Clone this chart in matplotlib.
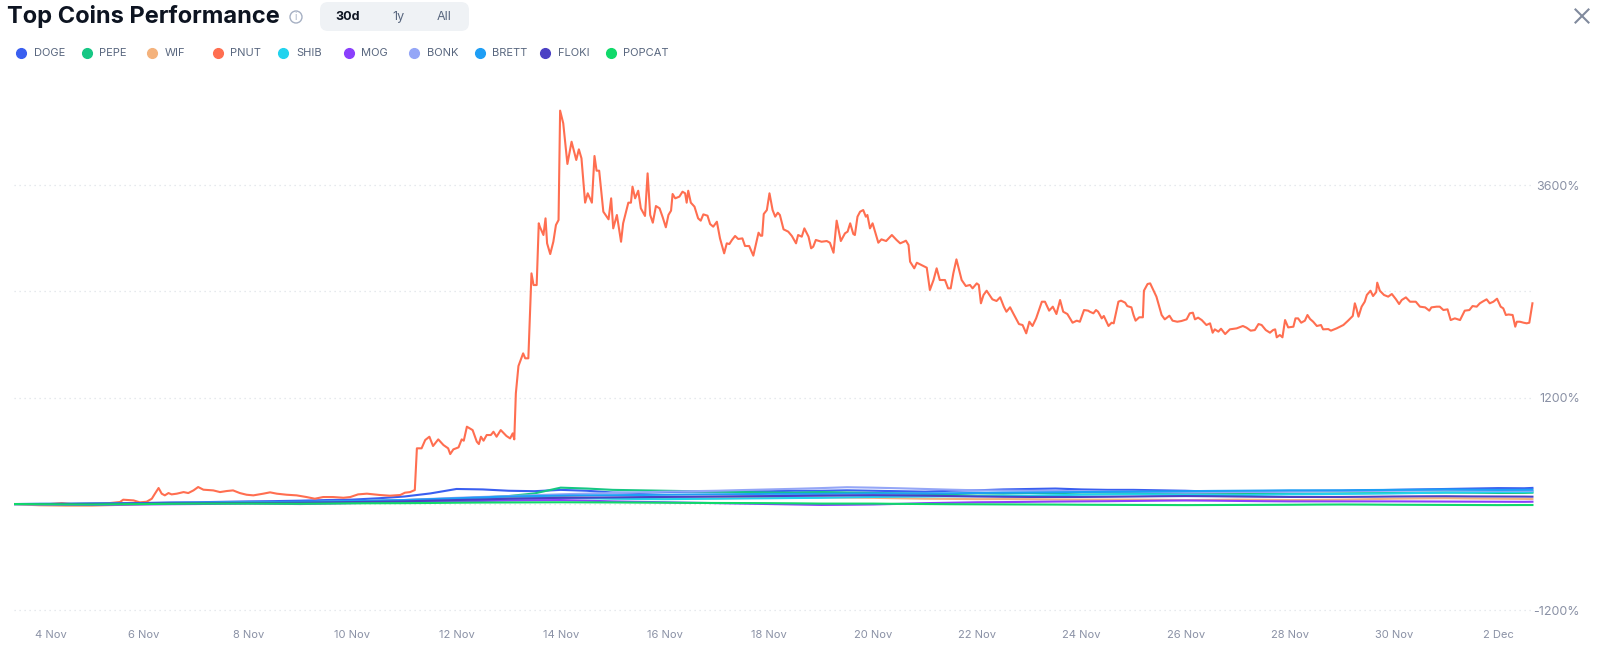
import matplotlib
matplotlib.use("Agg")
import matplotlib.pyplot as plt
from matplotlib.transforms import IdentityTransform, ScaledTranslation
from matplotlib.patches import FancyBboxPatch, Circle
from matplotlib.lines import Line2D

plt.rcParams['font.family'] = ['Inter', 'DejaVu Sans']

# ---------------- data ----------------
coins = ["DOGE", "PEPE", "WIF", "PNUT", "SHIB", "MOG", "BONK", "BRETT", "FLOKI", "POPCAT"]
colors = ["#3a5ff0", "#16c784", "#f4b27c", "#ff6e50", "#22d3ee", "#8a3ffc",
          "#94a6f7", "#1e9ef5", "#4b40c4", "#10d96a"]

# day of November (32 = 2 Dec)
other_days = [3.52, 4.0, 4.5, 5.0, 5.5, 6.0, 6.5, 7.0, 7.5, 8.0,
              8.5, 9.0, 9.5, 10.0, 10.5, 11.0, 11.5, 12.0, 12.5, 13.0,
              13.5, 14.0, 14.5, 15.0, 15.5, 16.0, 16.5, 17.0, 17.5, 18.0,
              18.5, 19.0, 19.5, 20.0, 20.5, 21.0, 21.5, 22.0, 22.5, 23.0,
              23.5, 24.0, 24.5, 25.0, 25.5, 26.0, 26.5, 27.0, 27.5, 28.0,
              28.5, 29.0, 29.5, 30.0, 30.5, 31.0, 31.5, 32.0, 32.5, 32.66]
doge = [0, 2, 0, 5, 8, 12, 18, 20, 25, 30,
        33, 38, 45, 50, 65, 85, 120, 170, 165, 150,
        145, 160, 150, 130, 125, 135, 140, 140, 145, 145,
        150, 150, 155, 150, 145, 140, 150, 155, 165, 170,
        175, 165, 160, 160, 155, 150, 140, 140, 140, 145,
        148, 150, 155, 160, 165, 170, 175, 180, 178, 182]
pepe = [0, 0, -2, -3, -2, 5, 8, 10, 12, 15,
        18, 20, 22, 25, 30, 35, 45, 60, 75, 90,
        120, 185, 175, 160, 155, 150, 145, 140, 135, 130,
        128, 135, 130, 125, 120, 115, 112, 120, 118, 125,
        122, 130, 128, 125, 122, 120, 118, 115, 113, 115,
        118, 120, 122, 125, 128, 130, 128, 125, 126, 128]
wif = [0, -15, -20, -20, -10, 0, 5, 10, 12, 15,
       18, 20, 25, 30, 38, 45, 55, 60, 70, 75,
       78, 80, 72, 65, 62, 60, 63, 65, 68, 70,
       72, 75, 73, 70, 65, 60, 58, 55, 56, 55,
       52, 50, 50, 50, 48, 45, 47, 50, 48, 45,
       47, 50, 55, 60, 63, 65, 62, 60, 58, 56]
shib = [0, 0, -1, -2, 2, 5, 8, 10, 11, 12,
        13, 15, 20, 25, 32, 40, 48, 55, 58, 60,
        65, 70, 65, 60, 57, 55, 58, 60, 63, 65,
        68, 70, 75, 80, 83, 85, 88, 90, 93, 95,
        100, 105, 108, 110, 108, 105, 102, 100, 105, 110,
        112, 115, 118, 120, 125, 130, 132, 135, 137, 139]
mog = [0, -5, -8, -10, -8, -5, -2, 0, 3, 5,
       3, 0, 5, 10, 15, 20, 25, 30, 35, 40,
       43, 45, 38, 30, 25, 20, 15, 10, 5, 0,
       -5, -10, -8, -5, 2, 10, 15, 20, 22, 25,
       28, 30, 32, 35, 38, 40, 38, 35, 32, 30,
       30, 30, 30, 30, 29, 28, 27, 26, 25, 26]
bonk = [0, 0, 1, 2, 5, 8, 10, 12, 14, 15,
        18, 20, 25, 30, 38, 45, 58, 70, 80, 90,
        100, 110, 118, 125, 132, 140, 145, 150, 158, 165,
        172, 180, 190, 185, 178, 170, 162, 155, 152, 150,
        148, 145, 142, 140, 135, 130, 132, 135, 138, 140,
        142, 145, 148, 150, 152, 155, 152, 150, 150, 150]
brett = [0, 2, 3, 5, 8, 10, 12, 15, 18, 20,
         22, 25, 30, 35, 40, 45, 55, 65, 75, 85,
         90, 95, 98, 100, 102, 105, 108, 110, 112, 115,
         115, 115, 118, 120, 120, 120, 122, 125, 128, 130,
         132, 135, 138, 140, 142, 145, 148, 150, 152, 155,
         155, 155, 158, 160, 162, 165, 162, 160, 161, 162]
floki = [0, 0, 2, 3, 5, 8, 9, 10, 11, 12,
         13, 15, 18, 22, 26, 30, 38, 45, 52, 60,
         65, 70, 72, 75, 78, 80, 82, 85, 88, 90,
         92, 95, 98, 100, 98, 95, 90, 85, 82, 80,
         80, 80, 82, 85, 88, 90, 88, 85, 82, 80,
         80, 80, 82, 85, 87, 88, 86, 85, 84, 83]
popcat = [0, -2, -4, -5, -2, 0, 3, 5, 5, 5,
          4, 3, 5, 8, 9, 10, 12, 15, 17, 18,
          19, 20, 19, 18, 16, 15, 13, 12, 11, 10,
          8, 5, 5, 5, 2, 0, -2, -3, -4, -5,
          -6, -8, -9, -10, -11, -12, -11, -10, -9, -8,
          -6, -5, -6, -8, -9, -10, -11, -12, -11, -11]

pnut_days = [3.52, 4.20, 4.42, 4.60, 5.20, 5.54, 5.60, 5.80, 5.92, 6.05, 6.15, 6.21, 6.28, 6.34,
             6.40, 6.47, 6.53, 6.63, 6.76, 6.85, 6.95, 7.04, 7.14, 7.33, 7.46, 7.59, 7.71, 7.84,
             7.97, 8.10, 8.29, 8.42, 8.55, 8.74, 8.93, 9.12, 9.28, 9.44, 9.63, 9.83, 9.96, 10.11,
             10.28, 10.53, 10.72, 10.92, 11.01, 11.11, 11.20,
             11.24, 11.33, 11.40, 11.48, 11.55, 11.65, 11.75, 11.84, 11.88, 11.94, 12.04, 12.10,
             12.14, 12.20, 12.31, 12.39, 12.43, 12.47, 12.52, 12.58, 12.66, 12.71, 12.77, 12.85,
             12.96, 13.03, 13.08, 13.11, 13.14, 13.19, 13.28, 13.32, 13.38, 13.44, 13.48, 13.54,
             13.58, 13.60, 13.67, 13.71, 13.74, 13.80, 13.86, 13.91, 13.96, 13.99, 14.05, 14.13,
             14.21, 14.30, 14.35, 14.40, 14.47, 14.52, 14.60, 14.65, 14.69, 14.74, 14.82, 14.92,
             14.97, 15.01, 15.08, 15.16, 15.20, 15.30, 15.35, 15.38, 15.43, 15.49, 15.54, 15.62,
             15.67, 15.72, 15.77, 15.83, 15.90, 15.96, 16.02, 16.07, 16.12, 16.15, 16.20, 16.28,
             16.34, 16.39, 16.42, 16.45, 16.50, 16.57, 16.64, 16.69, 16.74, 16.82, 16.87, 16.93,
             17.00, 17.06, 17.14, 17.19, 17.24, 17.29, 17.35, 17.41, 17.49, 17.54, 17.62, 17.70,
             17.80, 17.84, 17.87, 17.90, 17.96, 18.01, 18.07, 18.12, 18.17,
             18.21, 18.28, 18.37, 18.44, 18.52, 18.56, 18.63, 18.68, 18.76, 18.81, 18.85, 18.90,
             19.01, 19.11, 19.17, 19.24, 19.30, 19.38, 19.46, 19.51, 19.56, 19.62, 19.65, 19.70,
             19.75, 19.81, 19.86, 19.89, 19.94, 19.99, 20.10, 20.16, 20.25, 20.36, 20.45, 20.52,
             20.59, 20.63, 20.68, 20.71, 20.79, 20.84, 20.93, 21.03, 21.09, 21.16, 21.22, 21.28,
             21.38, 21.44, 21.49, 21.54, 21.60, 21.70, 21.78, 21.86, 21.91, 21.99, 22.03, 22.07,
             22.12, 22.18, 22.29, 22.37, 22.44, 22.51, 22.56, 22.63, 22.69, 22.80, 22.87, 22.94,
             23.00, 23.06, 23.13, 23.24, 23.30, 23.38, 23.45, 23.52, 23.59, 23.65, 23.73, 23.83,
             23.91, 23.97, 24.05, 24.13,
             24.16, 24.23, 24.28, 24.32, 24.39, 24.43, 24.52, 24.58, 24.62, 24.71, 24.76, 24.84,
             24.88, 24.96, 25.00, 25.04, 25.11, 25.18, 25.20, 25.27, 25.32, 25.38, 25.44, 25.54,
             25.60, 25.69, 25.75, 25.84, 25.92, 26.02, 26.08, 26.14, 26.18, 26.24, 26.31, 26.40,
             26.47, 26.52, 26.56, 26.63, 26.68, 26.76, 26.85, 26.98, 27.10, 27.17, 27.25, 27.33,
             27.40, 27.46, 27.54, 27.62, 27.68, 27.72, 27.75, 27.81, 27.86, 27.91, 27.97, 28.07,
             28.11, 28.16, 28.22, 28.29, 28.34, 28.39, 28.45, 28.52, 28.60, 28.64, 28.74, 28.79,
             28.90, 29.03, 29.12, 29.21, 29.25, 29.28, 29.32, 29.38, 29.44, 29.48, 29.55, 29.60,
             29.66, 29.68, 29.73, 29.81, 29.89, 29.96, 30.04, 30.10, 30.15, 30.23, 30.31, 30.42,
             30.50, 30.60, 30.68, 30.72, 30.82, 30.88, 30.95, 31.03, 31.09, 31.17, 31.27, 31.36,
             31.45, 31.51, 31.59, 31.65, 31.70, 31.78, 31.84, 31.91, 31.98, 32.05, 32.10, 32.15,
             32.20, 32.28, 32.33, 32.36, 32.42, 32.49, 32.55, 32.60, 32.66]
pnut = [0, 0, 10, 0, 2, 23, 49, 41, 19, 26, 60, 117, 181, 117,
        98, 124, 109, 117, 135, 124, 154, 192, 162, 154, 135, 147, 154, 124,
        105, 98, 117, 132, 117, 105, 98, 79, 60, 79, 79, 71, 79, 109,
        117, 102, 94, 102, 128, 135, 158,
        629, 629, 723, 760, 655, 730, 666, 629, 564, 617, 640, 730,
        715, 873, 835, 704, 677, 760, 715, 779, 779, 816, 760, 835,
        768, 741, 798, 730, 1249, 1558, 1701, 1645, 1645, 2604, 2472, 2472,
        3169, 3131, 3037, 3225, 2943, 2822, 2961, 3150, 3206, 4441, 4298, 3839,
        4090, 3884, 4004, 3903, 3402, 3508, 3402, 3929, 3763, 3763, 3300, 3214,
        3451, 3112, 3263, 2961, 3169, 3402, 3402, 3583, 3451, 3537, 3338, 3252,
        3733, 3263, 3176, 3364, 3338, 3237, 3124, 3263, 3312, 3500, 3451, 3470,
        3526, 3508, 3402, 3537, 3402, 3357, 3225, 3199, 3270, 3255, 3161, 3131,
        3187, 2999, 2830, 2943, 2935, 2981, 3026, 2992, 2999, 2913, 2913, 2804,
        3063, 3029, 3029, 3274, 3319, 3508, 3319, 3244, 3289,
        3263, 3101, 3075, 3026, 2943, 3037, 3018, 3112, 3018, 2887, 2905, 2981,
        2961, 2969, 2950, 2837, 3199, 2969, 3056, 3075, 3169, 3048, 3037, 3244,
        3300, 3319, 3244, 3263, 3112, 3169, 2950, 2988, 2969, 3037, 2981, 2943,
        2961, 2973, 2924, 2736, 2661, 2724, 2698, 2668, 2416, 2529, 2661, 2529,
        2529, 2435, 2435, 2604, 2762, 2529, 2461, 2473, 2435, 2491, 2473, 2266,
        2360, 2408, 2311, 2292, 2334, 2228, 2171, 2221, 2153, 2032, 2021, 1927,
        2058, 2010, 2096, 2284, 2284, 2183, 2228, 2145, 2303, 2171, 2145, 2047,
        2070, 2058, 2190, 2183,
        2171, 2153, 2190, 2171, 2096, 2123, 2010, 2047, 2040, 2284, 2296, 2273,
        2235, 2220, 2134, 2070, 2108, 2108, 2408, 2484, 2491, 2416, 2341, 2134,
        2085, 2126, 2070, 2058, 2066, 2085, 2153, 2160, 2085, 2104, 2077, 2021,
        2040, 1934, 1972, 1946, 1979, 1919, 1972, 1983, 2010, 1991, 1957, 1964,
        2032, 2021, 1964, 1934, 1964, 1972, 1882, 1908, 1882, 2077, 1994, 2002,
        2096, 2096, 2047, 2070, 2134, 2089, 2058, 2010, 2021, 1972, 1975, 1957,
        1983, 2021, 2070, 2123, 2266, 2209, 2115, 2228, 2284, 2360, 2408, 2348,
        2393, 2499, 2408, 2360, 2341, 2371, 2311, 2258, 2303, 2333, 2284, 2284,
        2228, 2220, 2183, 2220, 2228, 2228, 2190, 2198, 2077, 2096, 2077, 2183,
        2190, 2235, 2228, 2266, 2284, 2311, 2266, 2284, 2318, 2228, 2209, 2134,
        2140, 2134, 2002, 2058, 2058, 2047, 2040, 2047, 2266]

series_values = {"DOGE": doge, "PEPE": pepe, "WIF": wif, "PNUT": pnut, "SHIB": shib,
                 "MOG": mog, "BONK": bonk, "BRETT": brett, "FLOKI": floki, "POPCAT": popcat}
series_days = {c: (pnut_days if c == "PNUT" else other_days) for c in coins}

x_tick_days = [4, 6, 8, 10, 12, 14, 16, 18, 20, 22, 24, 26, 28, 30, 32]
x_tick_labels = ["4 Nov", "6 Nov", "8 Nov", "10 Nov", "12 Nov", "14 Nov", "16 Nov", "18 Nov",
                 "20 Nov", "22 Nov", "24 Nov", "26 Nov", "28 Nov", "30 Nov", "2 Dec"]
y_ticks = [-1200, 0, 1200, 2400, 3600]
y_tick_labels = ["-1200%", "", "1200%", "", "3600%"]

# ---------------- figure ----------------
W, H = 1600, 650
fig = plt.figure(figsize=(16, 6.5), dpi=100)
fig.patch.set_facecolor("white")

ax = fig.add_axes([13.8 / W, 1 - 613 / H, 1520.2 / W, 538.6 / H])
ax.set_facecolor("white")
for c, col in zip(coins, colors):
    ax.plot(series_days[c], series_values[c], color=col, lw=1.5, solid_joinstyle="round")

ax.set_xlim(3.5, 32.69)
ax.set_ylim(-1230, 4850)
for s in ax.spines.values():
    s.set_visible(False)

ax.set_yticks(y_ticks)
ax.set_yticklabels(y_tick_labels)
ax.yaxis.tick_right()
ax.tick_params(axis="y", length=0, pad=33, labelsize=9, labelcolor="#8a91a5")
for lab in ax.get_yticklabels():
    lab.set_horizontalalignment("right")
ax.grid(axis="y", color="#dfe2e8", linestyle=(0, (1, 3)), lw=0.9)
ax.set_axisbelow(True)

ax.set_xticks(x_tick_days)
ax.set_xticklabels(x_tick_labels)
ax.tick_params(axis="x", length=0, pad=12, labelsize=8, labelcolor="#8a91a5")
first = ax.get_xticklabels()[0]
first.set_transform(first.get_transform() + ScaledTranslation(0.11, 0, fig.dpi_scale_trans))

# ---------------- header ----------------
ident = IdentityTransform()
fig.text(7 / W, 1 - 17 / H, "Top Coins Performance", fontsize=17, fontweight="bold",
         color="#0d1421", va="center", ha="left")
# info icon
fig.add_artist(Circle((296, H - 17), 6, transform=ident, fill=False, ec="#a6b0c3", lw=1))
fig.text(296 / W, 1 - 17.5 / H, "i", fontsize=7, color="#a6b0c3", ha="center", va="center")
# period selector
fig.add_artist(FancyBboxPatch((320, H - 31), 149, 29, transform=ident,
                              boxstyle="round,pad=0,rounding_size=8",
                              fc="#eff2f5", ec="none"))
fig.text(348 / W, 1 - 17 / H, "30d", fontsize=9, fontweight="bold", color="#0d1421",
         ha="center", va="center")
fig.text(398 / W, 1 - 17 / H, "1y", fontsize=9, color="#58667e", ha="center", va="center")
fig.text(444 / W, 1 - 17 / H, "All", fontsize=9, color="#58667e", ha="center", va="center")
# close icon
cx, cy, r = 1582, H - 16, 6.5
fig.add_artist(Line2D([cx - r, cx + r], [cy - r, cy + r], transform=ident, color="#808a9d", lw=1.5))
fig.add_artist(Line2D([cx - r, cx + r], [cy + r, cy - r], transform=ident, color="#808a9d", lw=1.5))

# legend
for i, (c, col) in enumerate(zip(coins, colors)):
    mx = 21.4 + i * 65.5
    fig.add_artist(Line2D([mx], [H - 53], transform=ident, marker="o", markersize=7,
                          color=col, lw=0))
    fig.text((mx + 12.5) / W, 1 - 53.5 / H, c, fontsize=8, color="#58667e",
             ha="left", va="center")

fig.savefig("out.png", dpi=100, facecolor="white")
